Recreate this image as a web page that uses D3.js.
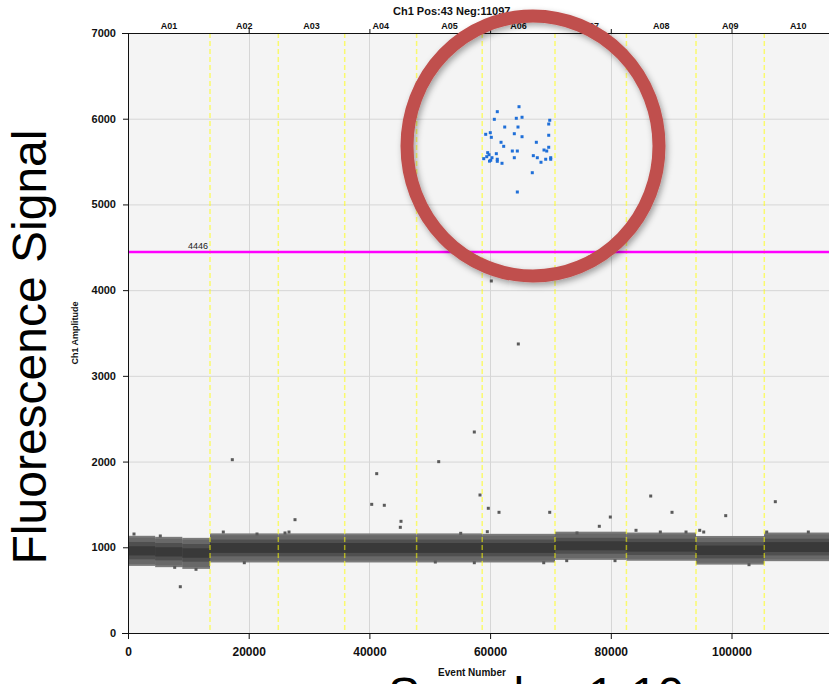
<!DOCTYPE html>
<html>
<head>
<meta charset="utf-8">
<script src="https://cdn.jsdelivr.net/npm/d3@7"></script>
<style>
  body { margin: 0; background: #fff; }
  svg { display: block; }
  .tick-label { font-family: "Liberation Sans", Arial, sans-serif; font-weight: bold; fill: #111; }
</style>
</head>
<body>
<svg id="chart" width="829" height="684"></svg>
<script>
  // well layout
  var wellNames = ['A01', 'A02', 'A03', 'A04', 'A05', 'A06', 'A07', 'A08', 'A09', 'A10'];
  var wellEdges = [0, 13590, 24905, 35907, 47820, 58690, 70750, 82585, 94120, 105430, 116650];

  var yTicks = [0, 1000, 2000, 3000, 4000, 5000, 6000, 7000];
  var xTicks = [0, 20000, 40000, 60000, 80000, 100000];
  var threshold = 4446;

  // negative droplet band, read per well segment (amplitudes)
  var bandStart     = [0,    4500, 9000,  13590, 24905, 35907, 47820, 58690, 70750, 82585, 94120, 105430];
  var bandEnd       = [4500, 9000, 13590, 24905, 35907, 47820, 58690, 70750, 82585, 94120, 105430, 116650];
  var bandOuterLow  = [805,  790,  770,   845,   845,   845,   845,   845,   875,   865,   820,   860];
  var bandMidLow    = [860,  848,  832,   895,   895,   895,   895,   895,   925,   910,   870,   905];
  var bandCoreLow   = [905,  893,  878,   935,   935,   935,   935,   935,   965,   950,   910,   945];
  var bandCoreHigh  = [1012, 1000, 988,   1050,  1050,  1050,  1050,  1050,  1070,  1060,  1020,  1060];
  var bandMidHigh   = [1062, 1050, 1038,  1090,  1090,  1090,  1090,  1090,  1110,  1100,  1060,  1100];
  var bandOuterHigh = [1112, 1100, 1088,  1140,  1140,  1140,  1140,  1135,  1160,  1150,  1110,  1150];

  // positive droplets (blue)
  var posEvents = [64790, 61190, 60700, 64340, 65290, 69880, 69710, 62420, 64620, 59270,
                   60030, 60200, 64010, 65290, 69710, 61810, 62250, 67660, 69710, 63680,
                   64510, 68930, 69380, 59600, 59820, 61030, 59440, 58940, 60310, 60100,
                   61190, 61190, 61970, 64010, 67160, 67820, 68430, 69210, 70040, 70040,
                   66990, 64510, 59900];
  var posAmps   = [6140, 6082, 5993, 6005, 6017, 5982, 5938, 5903, 5903, 5818,
                   5837, 5783, 5825, 5790, 5807, 5725, 5678, 5725, 5667, 5623,
                   5623, 5635, 5623, 5604, 5580, 5592, 5557, 5534, 5545, 5515,
                   5527, 5503, 5480, 5545, 5569, 5545, 5492, 5527, 5545, 5527,
                   5370, 5145, 5505];

  // scattered negative droplets outside the band (gray)
  var outEvents = [994, 5352, 7738, 8666, 11268, 15791, 17283, 19271, 21375, 26015,
                   26678, 27672, 40382, 41210, 42469, 45121, 45236, 50920, 51483, 55129,
                   57382, 57382, 58326, 59536, 59702, 60199, 61475, 64673, 68882, 69876,
                   72693, 74399, 78094, 79917, 80696, 84176, 86611, 88202, 90141, 92461,
                   94731, 95394, 99039, 102900, 105833, 107258, 112726];
  var outAmps   = [1155, 1132, 766, 540, 743, 1178, 2022, 820, 1155, 1167,
                   1178, 1322, 1501, 1859, 1490, 1233, 1303, 828, 1999, 1163,
                   2345, 820, 1610, 1182, 1455, 4107, 1408, 3372, 820, 1408,
                   844, 1167, 1245, 1353, 844, 1198, 1598, 1178, 1408, 1178,
                   1198, 1178, 1369, 797, 1178, 1532, 1178];

  var svg = d3.select('#chart');
  var x = d3.scaleLinear().domain([0, 116650]).range([128, 832]);
  var y = d3.scaleLinear().domain([0, 7000]).range([633, 33]);

  var defs = svg.append('defs');
  var shadow = defs.append('filter').attr('id', 'shadow')
    .attr('x', '-20%').attr('y', '-20%').attr('width', '140%').attr('height', '140%');
  shadow.append('feDropShadow').attr('dx', 2).attr('dy', 3).attr('stdDeviation', 3)
    .attr('flood-color', '#000').attr('flood-opacity', 0.35);
  defs.append('clipPath').attr('id', 'plot-clip').append('rect')
    .attr('x', 128).attr('y', 33).attr('width', 704).attr('height', 600);

  // plot background
  svg.append('rect').attr('x', 128).attr('y', 33).attr('width', 704).attr('height', 600).attr('fill', '#f4f4f4');

  var plot = svg.append('g').attr('clip-path', 'url(#plot-clip)');

  // gridlines
  plot.selectAll('.hgrid').data(yTicks.slice(1, -1)).enter().append('line')
    .attr('x1', 128).attr('x2', 832)
    .attr('y1', function(d) { return y(d) + 0.5; }).attr('y2', function(d) { return y(d) + 0.5; })
    .attr('stroke', '#d6d6d6').attr('stroke-width', 1);
  plot.selectAll('.vgrid').data(xTicks.slice(1)).enter().append('line')
    .attr('x1', function(d) { return Math.round(x(d)) + 0.5; }).attr('x2', function(d) { return Math.round(x(d)) + 0.5; })
    .attr('y1', 33).attr('y2', 633)
    .attr('stroke', '#d6d6d6').attr('stroke-width', 1);

  // negative band, density layers (light fringe outside, dark core)
  var layers = [
    [bandOuterLow, bandOuterHigh, '#7a7a7a', 22],
    [bandOuterLow, bandOuterHigh, '#686868', 0],
    [bandMidLow, bandMidHigh, '#4f4f4f', 0],
    [bandCoreLow, bandCoreHigh, '#393939', 0]
  ];
  layers.forEach(function(l) {
    plot.selectAll(null).data(bandStart).enter().append('rect')
      .attr('x', function(d) { return x(d); })
      .attr('width', function(d, i) { return x(bandEnd[i]) - x(d); })
      .attr('y', function(d, i) { return y(l[1][i] + l[3]); })
      .attr('height', function(d, i) { return y(l[0][i] - l[3]) - y(l[1][i] + l[3]); })
      .attr('fill', l[2]);
  });

  // gray scattered droplets
  plot.selectAll('.neg').data(outEvents).enter().append('rect')
    .attr('x', function(d) { return x(d) - 1.5; })
    .attr('y', function(d, i) { return y(outAmps[i]) - 1.5; })
    .attr('width', 3).attr('height', 3)
    .attr('fill', '#5a5a5a');

  // well boundaries
  plot.selectAll('.well').data(wellEdges.slice(1, -1)).enter().append('line')
    .attr('x1', function(d) { return x(d); }).attr('x2', function(d) { return x(d); })
    .attr('y1', 33).attr('y2', 633)
    .attr('stroke', '#ffff00').attr('stroke-opacity', 0.55)
    .attr('stroke-width', 1.5).attr('stroke-dasharray', '5,3');

  // positive droplets
  plot.selectAll('.pos').data(posEvents).enter().append('rect')
    .attr('x', function(d) { return x(d) - 1.5; })
    .attr('y', function(d, i) { return y(posAmps[i]) - 1.5; })
    .attr('width', 3).attr('height', 3)
    .attr('fill', '#1f6fd8');

  // threshold
  plot.append('line')
    .attr('x1', 128).attr('x2', 832)
    .attr('y1', y(threshold)).attr('y2', y(threshold))
    .attr('stroke', '#ff00ff').attr('stroke-width', 2.5);
  svg.append('text')
    .attr('x', 208).attr('y', y(threshold) - 3)
    .attr('text-anchor', 'end')
    .style('font-family', '"Liberation Sans", Arial, sans-serif').style('font-size', '9px')
    .attr('fill', '#222').text(threshold);

  // axes
  var yAxis = svg.append('g').attr('transform', 'translate(128,0)')
    .call(d3.axisLeft(y).tickValues(yTicks).tickSize(5).tickPadding(7).tickFormat(d3.format('d')));
  var xAxis = svg.append('g').attr('transform', 'translate(0,633)')
    .call(d3.axisBottom(x).tickValues(xTicks).tickSize(6).tickPadding(8).tickFormat(d3.format('d')));
  var topAxis = svg.append('g').attr('transform', 'translate(0,33)')
    .call(d3.axisTop(x).tickValues(xTicks.slice(1)).tickSize(4).tickFormat(''));
  [yAxis, xAxis, topAxis].forEach(function(a) {
    a.select('.domain').remove();
    a.selectAll('line').attr('stroke', '#111');
    a.selectAll('text').attr('class', 'tick-label');
  });
  yAxis.selectAll('text').style('font-size', '11px');
  xAxis.selectAll('text').style('font-size', '12px');
  svg.append('line').attr('x1', 128.5).attr('x2', 128.5).attr('y1', 33).attr('y2', 634).attr('stroke', '#111');
  svg.append('line').attr('x1', 122).attr('x2', 832).attr('y1', 633.5).attr('y2', 633.5).attr('stroke', '#111');
  svg.append('line').attr('x1', 122).attr('x2', 832).attr('y1', 33.5).attr('y2', 33.5).attr('stroke', '#111');

  // well labels
  svg.selectAll('.wlabel').data(wellNames).enter().append('text')
    .attr('x', function(d, i) { return (x(wellEdges[i]) + x(wellEdges[i + 1])) / 2; })
    .attr('y', 29)
    .attr('text-anchor', 'middle')
    .style('font-family', '"Liberation Sans", Arial, sans-serif').style('font-size', '9px').style('font-weight', 'bold')
    .attr('fill', '#111').text(function(d) { return d; });

  // title and axis titles
  svg.append('text').attr('x', 393).attr('y', 15)
    .style('font-family', '"Liberation Sans", Arial, sans-serif').style('font-size', '11px').style('font-weight', 'bold')
    .attr('fill', '#111').text('Ch1 Pos:43 Neg:11097');
  svg.append('text').attr('x', 472).attr('y', 676).attr('text-anchor', 'middle')
    .style('font-family', '"Liberation Sans Narrow", "Liberation Sans", Arial, sans-serif').style('font-size', '10px').style('font-weight', 'bold')
    .attr('fill', '#111').text('Event Number');
  svg.append('text').attr('transform', 'translate(78,333) rotate(-90)').attr('text-anchor', 'middle')
    .style('font-family', '"Liberation Sans Narrow", "Liberation Sans", Arial, sans-serif').style('font-size', '9px').style('font-weight', 'bold')
    .attr('fill', '#111').text('Ch1 Amplitude');

  // slide overlays
  svg.append('text').attr('transform', 'translate(46,347) rotate(-90)').attr('text-anchor', 'middle')
    .style('font-family', '"Liberation Sans", Arial, sans-serif').style('font-size', '48px')
    .attr('fill', '#000').text('Fluorescence Signal');
  svg.append('text').attr('x', 388).attr('y', 711)
    .style('font-family', '"Liberation Sans", Arial, sans-serif').style('font-size', '48px')
    .attr('fill', '#000').text('Samples 1-10');

  svg.append('ellipse')
    .attr('cx', 533).attr('cy', 146).attr('rx', 126).attr('ry', 130)
    .attr('fill', 'none').attr('stroke', '#c0504d').attr('stroke-width', 13)
    .attr('filter', 'url(#shadow)');
</script>
</body>
</html>
